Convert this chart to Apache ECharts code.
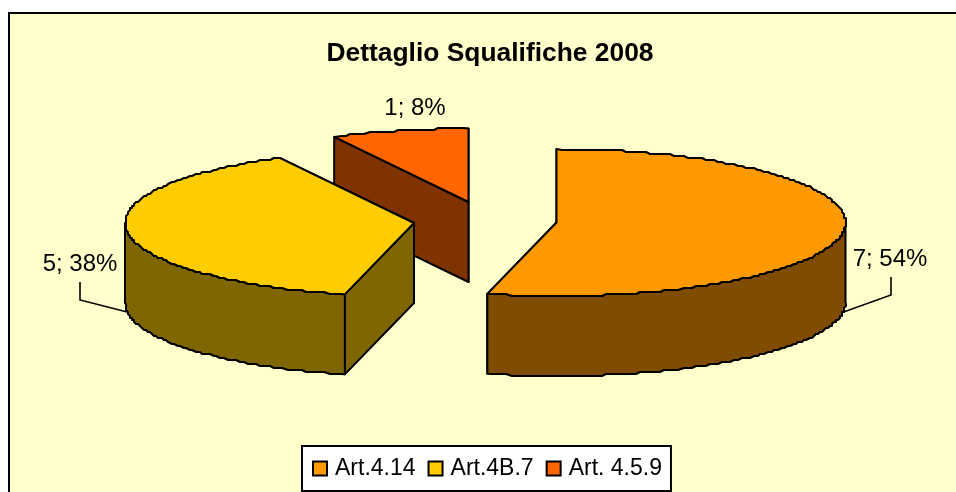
<!DOCTYPE html>
<html><head><meta charset="utf-8">
<style>html,body{margin:0;padding:0;background:#fff}#c{width:956px;height:492px}</style>
<script src="https://cdn.jsdelivr.net/npm/echarts@6/dist/echarts.min.js"></script>
</head><body><div id="c"></div>
<script>
const titleText = 'Dettaglio Squalifiche 2008';
const categories = ['Art.4.14', 'Art.4B.7', 'Art. 4.5.9'];
const values = [7, 5, 1];
const topColors = ['#FF9900', '#FFCC00', '#FF6600'];
const wallColors = ['#7F4C00', '#7F6600', '#7F3300'];
const centers = [[556.5, 222.5], [414, 223], [468.5, 202]];
const radiusX = 289, radiusY = 73.5, depth = 80, grain = 2;
const seriesZ = [5, 4, 3];
const labelPos = [[890, 259], [80, 264], [415, 108]];
const leaderAngle = [97.7, 263, null];
const leaderBend = [[891, 295], [80, 300], null];
const leaderEnd = [[891, 277], [80, 282], null];
const FONT = '"Liberation Sans", Arial, sans-serif';
const total = values.reduce((a, b) => a + b, 0);
const pct = values.map(v => Math.round(v / total * 100));
const starts = values.map((_, i) => values.slice(0, i).reduce((a, b) => a + b, 0) / total * 360);
const ends = values.map((v, i) => starts[i] + v / total * 360);

function pt(c, deg, dy) {
  const r = deg * Math.PI / 180;
  return [c[0] + radiusX * Math.sin(r), c[1] - radiusY * Math.cos(r) + (dy || 0)];
}
function arc(c, a, b, dy) {
  const out = [pt(c, a, dy)];
  for (let d = Math.ceil(a) + 1; d < b; d += 1) {
    const p = pt(c, d, dy);
    out.push([Math.round(p[0] / grain) * grain, Math.round(p[1] / grain) * grain]);
  }
  out.push(pt(c, b, dy));
  return out;
}
const stroke = { stroke: '#000', lineWidth: 2, lineJoin: 'round' };
function renderSlice(i) {
  const c = centers[i], s = starts[i], e = ends[i], kids = [];
  const cuts = [s, e].sort((a, b) => pt(c, a)[1] - pt(c, b)[1]);
  cuts.forEach(a => {
    const p = pt(c, a);
    kids.push({ type: 'polygon', shape: { points: [c, p, [p[0], p[1] + depth], [c[0], c[1] + depth]] },
      style: Object.assign({ fill: wallColors[i] }, stroke) });
  });
  const a0 = Math.max(s, 90), b0 = Math.min(e, 270);
  if (b0 > a0) {
    kids.push({ type: 'polygon', shape: { points: arc(c, a0, b0, 0).concat(arc(c, a0, b0, depth).reverse()) },
      style: Object.assign({ fill: wallColors[i] }, stroke) });
  }
  kids.push({ type: 'polygon', shape: { points: [c].concat(arc(c, s, e, 0)) },
    style: Object.assign({ fill: topColors[i] }, stroke) });
  kids.push({ type: 'text', style: { x: labelPos[i][0], y: labelPos[i][1], text: values[i] + '; ' + pct[i] + '%',
    font: '24px ' + FONT, fill: '#000', align: 'center', verticalAlign: 'middle' } });
  if (leaderAngle[i] !== null) {
    kids.push({ type: 'polyline', shape: { points: [pt(c, leaderAngle[i], depth), leaderBend[i], leaderEnd[i]] },
      style: { stroke: '#000', lineWidth: 1.6, fill: null } });
  }
  return { type: 'group', children: kids };
}
const chart = echarts.init(document.getElementById('c'), null, { renderer: 'canvas' });
chart.setOption({
  animation: false,
  backgroundColor: '#fff',
  title: { text: titleText, left: 485, top: 36, textAlign: 'center',
    textStyle: { fontFamily: FONT, fontSize: 26.4, fontWeight: 'bold', color: '#000' } },
  legend: { data: categories, left: 302, top: 446, orient: 'horizontal',
    backgroundColor: '#fff', borderColor: '#000', borderWidth: 2, borderRadius: 0,
    padding: [11, 9, 11, 10], itemWidth: 14, itemHeight: 14, itemGap: 12, icon: 'rect',
    textStyle: { fontFamily: FONT, fontSize: 23, color: '#000', padding: [0, 0, 0, 3] },
    itemStyle: { borderColor: '#000', borderWidth: 2 } },
  graphic: [{ type: 'rect', z: -10, silent: true, shape: { x: 9, y: 13, width: 960, height: 490 },
    style: { fill: '#FFFFCC', stroke: '#000', lineWidth: 2 } }],
  series: categories.map((name, i) => ({
    type: 'custom', name, coordinateSystem: 'none', z: seriesZ[i], silent: true,
    itemStyle: { color: topColors[i] },
    data: [values[i]],
    renderItem: () => renderSlice(i)
  }))
});
</script></body></html>
